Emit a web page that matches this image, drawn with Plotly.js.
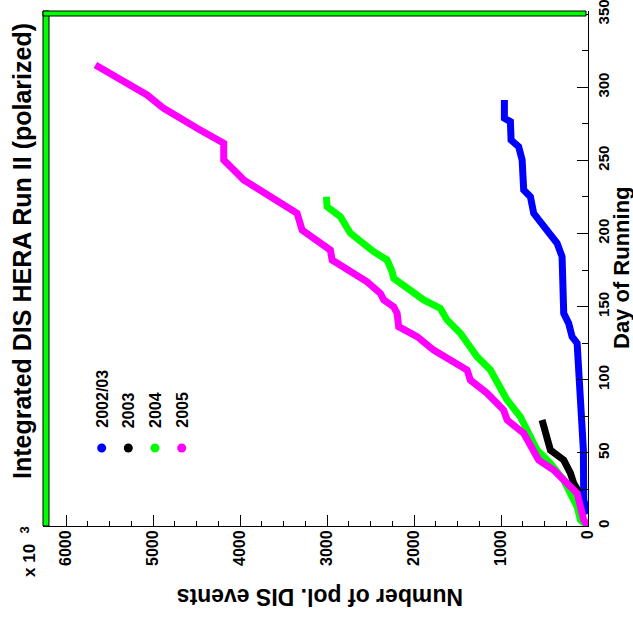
<!DOCTYPE html>
<html>
<head>
<meta charset="utf-8">
<script src="https://cdn.plot.ly/plotly-3.0.1.min.js"></script>
<style>html,body{margin:0;padding:0;background:#fff;}#chart{width:633px;height:619px;}</style>
</head>
<body>
<div id="chart"></div>
<script>
// Series names
const seriesNames = ["2002/03", "2003", "2004", "2005"];

// 2002/03 (blue)
const events0203 = [0, 49, 53, 68, 87, 110, 125, 183, 222, 279, 279, 298, 355, 470, 547, 624, 662, 739, 757, 797, 884, 892, 961, 961];
const days0203   = [8.2, 17.8, 51.9, 67.9, 99.8, 109.4, 125.0, 129.4, 138.6, 145.4, 154.6, 184.2, 193.3, 202.4, 209.3, 213.8, 225.2, 229.8, 250.3, 259.4, 263.9, 276.5, 278.8, 291.3];

// 2003 (black)
const events2003 = [101, 164, 202, 279, 432, 470, 528];
const days2003   = [22.9, 29.2, 36.1, 45.1, 51.9, 61.1, 72.5];

// 2004 (green)
const events2004 = [0, 87, 125, 202, 279, 432, 585, 682, 777, 930, 1045, 1122, 1275, 1390, 1467, 1620, 1697, 1888, 2156, 2233, 2252, 2309, 2463, 2578, 2731, 2846, 2999, 3007];
const days2004   = [0, 4.1, 13.2, 22.4, 31.4, 42.9, 51.9, 63.4, 74.7, 86.2, 97.6, 106.7, 115.8, 124.9, 131.8, 140.9, 148.8, 154.6, 166.0, 169.4, 173.9, 181.9, 187.6, 193.3, 200.2, 211.5, 218.3, 225.2];

// 2005 (magenta)
const events2005 = [0, 49, 87, 125, 279, 394, 567, 643, 739, 930, 969, 1160, 1352, 1390, 1582, 1774, 1964, 2176, 2194, 2233, 2348, 2386, 2539, 2769, 2941, 2961, 3114, 3286, 3344, 3536, 3766, 3957, 4033, 4187, 4187, 4302, 4493, 4685, 4877, 5068, 5260, 5452, 5662];
const days2005   = [0, 4.1, 13.2, 22.4, 31.4, 38.3, 45.1, 54.2, 63.4, 72.5, 79.3, 90.8, 99.8, 106.7, 113.5, 120.3, 129.5, 136.3, 145.4, 149.9, 154.6, 159.1, 167.0, 175.0, 181.9, 188.7, 195.5, 202.4, 213.8, 220.6, 229.8, 236.6, 241.2, 250.3, 261.7, 265.1, 272.0, 278.8, 285.6, 294.8, 301.6, 308.4, 315.3];

// Axis ticks
const eventTicks = [0, 1000, 2000, 3000, 4000, 5000, 6000];
const dayTicks = [0, 50, 100, 150, 200, 250, 300, 350];

const colors = ["#0000ff", "#000000", "#00ff00", "#ff00ff"];
const xs = [events0203, events2003, events2004, events2005];
const ys = [days0203, days2003, days2004, days2005];

const traces = xs.map((x, i) => ({
  type: "scatter", mode: "lines", x: x, y: ys[i], name: seriesNames[i],
  line: {color: colors[i], width: 7}, showlegend: false, hoverinfo: "skip"
}));

// geometry helpers (plot area pixels: x 43..588, y 11..526)
const L = 43, R = 588, T = 11, B = 526, W = 633, H = 619;
const px = v => (v - L) / (R - L);
const py = v => (B - v) / (B - T);

const font = "Arial, 'Liberation Sans', Helvetica, sans-serif";

const annotations = [
  {text: "Integrated DIS HERA Run II (polarized)", textangle: -90, x: px(22), y: py(251), size: 25},
  {text: "Day of Running", textangle: -90, x: px(621), y: py(268), size: 22},
  {text: "Number of pol. DIS events", textangle: 180, x: px(320), y: py(597), size: 23},
  {text: "x 10", textangle: -90, x: px(29), y: py(561), size: 17},
  {text: "3", textangle: -90, x: px(23.5), y: py(530), size: 13},
].map(a => ({xref: "paper", yref: "paper", showarrow: false, xanchor: "center", yanchor: "middle",
  text: a.text, textangle: a.textangle, x: a.x, y: a.y,
  font: {family: font, size: a.size, color: "#000", weight: "bold"}}));

const legX = [101.7, 128.3, 155, 181.7];
seriesNames.forEach((n, i) => {
  annotations.push({xref: "paper", yref: "paper", showarrow: false, xanchor: "center", yanchor: "bottom",
    text: n, textangle: -90, x: px(legX[i]), y: py(430), font: {family: font, size: 16, color: "#000", weight: "bold"}});
});

const shapes = [
  {type: "rect", xref: "paper", yref: "paper", x0: 0, x1: px(49), y0: 0, y1: 1, fillcolor: "#00ff00", line: {color: "#000", width: 1}},
  {type: "rect", xref: "paper", yref: "paper", x0: 0, x1: px(586), y0: py(16), y1: 1, fillcolor: "#00ff00", line: {color: "#000", width: 1}},
];
legX.forEach((x, i) => {
  shapes.push({type: "circle", xref: "paper", yref: "paper", x0: px(x - 4.5), x1: px(x + 4.5), y0: py(452.5), y1: py(443.5),
    fillcolor: colors[i], line: {color: colors[i], width: 0}});
});

const layout = {
  width: W, height: H,
  margin: {l: L, r: W - R, t: T, b: H - B, pad: 0},
  paper_bgcolor: "#fff", plot_bgcolor: "#fff",
  showlegend: false,
  xaxis: {
    range: [(R - L) / 87 * 1000, 0], autorange: false,
    tickvals: eventTicks, ticktext: eventTicks.map(String),
    ticks: "inside", ticklen: 11, tickwidth: 1, tickcolor: "#000",
    minor: {dtick: 250, ticks: "inside", ticklen: 5, tickwidth: 1, tickcolor: "#000", showgrid: false},
    tickangle: -90, ticklabelstandoff: -3, ticklabeloverflow: "allow",
    tickfont: {family: font, size: 16, color: "#000", weight: "bold"},
    showline: true, linecolor: "#000", linewidth: 1, mirror: false,
    showgrid: false, zeroline: false
  },
  yaxis: {
    side: "right",
    range: [0, (B - T) / 1.4623], autorange: false,
    tickvals: dayTicks, ticktext: dayTicks.map(String),
    ticks: "inside", ticklen: 11, tickwidth: 1, tickcolor: "#000",
    minor: {dtick: 25, ticks: "inside", ticklen: 6, tickwidth: 1, tickcolor: "#000", showgrid: false},
    tickangle: -90, ticklabelstandoff: 2, ticklabeloverflow: "allow",
    tickfont: {family: font, size: 15, color: "#000", weight: "bold"},
    showline: true, linecolor: "#000", linewidth: 1, mirror: false,
    showgrid: false, zeroline: false
  },
  annotations: annotations,
  shapes: shapes
};

Plotly.newPlot("chart", traces, layout, {staticPlot: true, displayModeBar: false});
</script>
</body>
</html>
